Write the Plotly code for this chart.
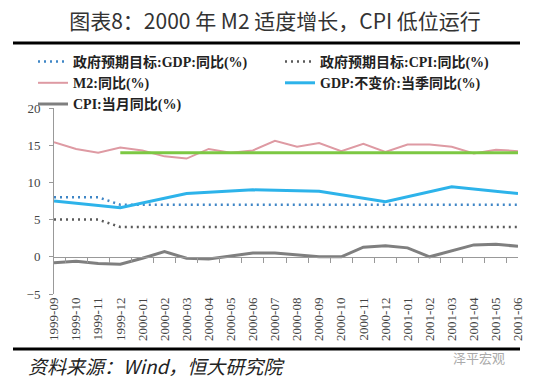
import plotly.graph_objects as go

months = ["1999-09","1999-10","1999-11","1999-12","2000-01","2000-02","2000-03","2000-04",
          "2000-05","2000-06","2000-07","2000-08","2000-09","2000-10","2000-11","2000-12",
          "2001-01","2001-02","2001-03","2001-04","2001-05","2001-06"]
gdp_target = [8,8,8,7,7,7,7,7,7,7,7,7,7,7,7,7,7,7,7,7,7,7]
cpi_target = [5,5,5,4,4,4,4,4,4,4,4,4,4,4,4,4,4,4,4,4,4,4]
m2 = [15.4,14.5,14.0,14.7,14.3,13.5,13.2,14.5,14.0,14.3,15.6,14.8,15.3,14.2,15.2,14.1,
      15.1,15.1,14.8,13.9,14.4,14.2]
m2_target = [None,None,None,14,14,14,14,14,14,14,14,14,14,14,14,14,14,14,14,14,14,14]
gdp = [7.5,None,None,6.6,None,None,8.5,None,None,9.0,None,None,8.8,None,None,7.4,
       None,None,9.4,None,None,8.5]
cpi = [-0.8,-0.6,-0.9,-1.0,-0.2,0.7,-0.2,-0.3,0.1,0.5,0.5,0.3,0.0,0.0,1.3,1.5,
       1.2,0.0,0.8,1.6,1.7,1.4]

W, H = 550, 383
L, R, T, B = 54, 32, 108, 89
pw, ph = W - L - R, H - T - B
def px(x): return (x - L) / pw
def py(y): return (H - B - y) / ph

serif = "Liberation Serif"

fig = go.Figure()
fig.add_trace(go.Scatter(x=months, y=gdp_target, mode="lines", name="政府预期目标:GDP:同比(%)",
                         line=dict(color="#3F86C6", width=2.5, dash="2px,4px")))
fig.add_trace(go.Scatter(x=months, y=cpi_target, mode="lines", name="政府预期目标:CPI:同比(%)",
                         line=dict(color="#5A5A5A", width=2.5, dash="2px,4px")))
fig.add_trace(go.Scatter(x=months, y=m2, mode="lines", name="M2:同比(%)",
                         line=dict(color="#DE9AA3", width=2)))
fig.add_trace(go.Scatter(x=months, y=gdp, mode="lines", name="GDP:不变价:当季同比(%)",
                         connectgaps=True, line=dict(color="#2DB3EA", width=3)))
fig.add_trace(go.Scatter(x=months, y=cpi, mode="lines", name="CPI:当月同比(%)",
                         line=dict(color="#7F7F7F", width=3)))
fig.add_trace(go.Scatter(x=months, y=m2_target, mode="lines", showlegend=False,
                         line=dict(color="#7CC843", width=3)))
# helper trace to carry the zero-line category axis
fig.add_trace(go.Scatter(x=months, y=[None]*len(months), xaxis="x2", showlegend=False,
                         hoverinfo="skip"))

fig.update_layout(
    width=W, height=H,
    margin=dict(l=L, r=R, t=T, b=B, autoexpand=False),
    paper_bgcolor="white", plot_bgcolor="white",
    title=dict(text="图表8：2000 年 M2 适度增长，CPI 低位运行", x=0.5, xref="container",
               y=1 - 22 / H, yref="container", yanchor="middle", xanchor="center",
               font=dict(family="Noto Sans CJK SC, serif", size=21, color="#333333")),
    xaxis=dict(type="category", categoryarray=months, showline=False, ticks="",
               tickangle=-90, showgrid=False, zeroline=False,
               tickfont=dict(family=serif, size=13, color="#444444")),
    xaxis2=dict(type="category", categoryarray=months, overlaying="x", anchor="free",
                position=0.2, side="bottom", matches="x", showline=True, linecolor="#999999",
                linewidth=1, ticks="outside", tickson="boundaries", ticklen=5,
                tickcolor="#999999", showticklabels=False, showgrid=False),
    yaxis=dict(range=[-5, 20], dtick=5, showline=True, linecolor="#999999", ticks="outside",
               ticklen=4, tickcolor="#999999", showgrid=False, zeroline=False,
               ticklabelstandoff=6,
               tickfont=dict(family=serif, size=13, color="#444444")),
    legend=dict(orientation="h", xref="paper", yref="paper",
                x=px(33), y=py(46), xanchor="left", yanchor="top",
                entrywidth=202, entrywidthmode="pixels", traceorder="normal",
                font=dict(family="Liberation Serif, Noto Sans CJK SC", size=14,
                          color="#222222", weight="bold"),
                bgcolor="rgba(0,0,0,0)", itemwidth=30, tracegroupgap=0),
    showlegend=True,
    shapes=[
        dict(type="line", xref="paper", yref="paper", x0=px(13), x1=px(520),
             y0=py(43), y1=py(43), line=dict(color="black", width=3)),
        dict(type="line", xref="paper", yref="paper", x0=px(13), x1=px(520),
             y0=py(349), y1=py(349), line=dict(color="black", width=3)),
    ],
    annotations=[
        dict(text="<i>资料来源：Wind，恒大研究院</i>", xref="paper", yref="paper",
             x=px(26), y=py(365), xanchor="left", yanchor="middle", showarrow=False,
             font=dict(family="Noto Sans CJK SC, serif", size=19, color="#222222")),
        dict(text="泽平宏观", xref="paper", yref="paper", x=px(507), y=py(357),
             xanchor="right", yanchor="middle", showarrow=False,
             font=dict(family="Noto Sans CJK SC", size=13, color="#AAAAAA")),
    ],
)

fig.write_html("out.html", config={"displayModeBar": False},
               post_script="document.body.style.margin='0';")
